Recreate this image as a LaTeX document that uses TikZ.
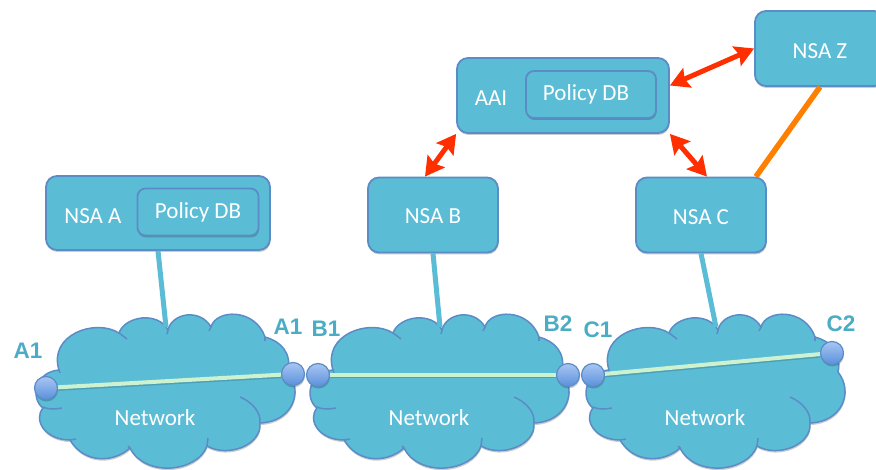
\documentclass[tikz,border=0pt]{standalone}
\usepackage{fontspec}
\setmainfont{Carlito}
\newfontfamily\portfont{Liberation Sans}[BoldFont={Liberation Sans Bold}]
\usepackage{tikz}
\usetikzlibrary{arrows.meta,shadows,positioning}
\definecolor{nsafill}{HTML}{5BBCD6}
\definecolor{nsaedge}{HTML}{5C8CC6}
\definecolor{portlabel}{HTML}{4BACC6}
\definecolor{porttop}{HTML}{A9C6F2}
\definecolor{portbottom}{HTML}{5A90DC}
\definecolor{ctrlred}{HTML}{FF2F00}
\definecolor{peerorange}{HTML}{FF7F00}
\definecolor{datagreen}{HTML}{CDF2CF}
\tikzset{
  softshadow/.style={drop shadow={shadow xshift=0.5pt,shadow yshift=-2pt,opacity=0.2,fill=black}},
  nsabox/.style={draw=nsaedge,fill=nsafill,line width=1.8pt,rounded corners=11pt,inner sep=0pt,softshadow},
  boxtext/.style={text=white,inner sep=0pt,font=\fontsize{23}{27}\selectfont},
  policybox/.style={nsabox,boxtext,rounded corners=8pt},
  portdot/.style={circle,draw=nsaedge,line width=1.2pt,minimum size=23pt,inner sep=0pt,top color=porttop,bottom color=portbottom,softshadow},
  portname/.style={text=portlabel,inner sep=0pt,font=\portfont\bfseries\fontsize{22.5}{26}\selectfont},
  mgmtlink/.style={draw=nsafill,line width=5pt},
  datalink/.style={draw=datagreen,line width=4pt,preaction={draw=black,opacity=0.15,line width=4pt,transform canvas={yshift=-1.5pt}}},
  ctrlarrow/.style={draw=ctrlred,line width=5pt,{Stealth[width=21pt,length=19pt,inset=3pt]}-{Stealth[width=21pt,length=19pt,inset=3pt]}},
  peerlink/.style={draw=peerorange,line width=5.5pt},
  netcloud/.pic={
    \path [draw=nsaedge,fill=nsafill,line width=1.5pt,softshadow]
      (59,370) .. controls (48,335) and (95,318) .. (119,333)
      .. controls (125,316) and (158,311) .. (168,330)
      .. controls (172,313) and (200,308) .. (211,327)
      .. controls (216,309) and (255,308) .. (265,337)
      .. controls (280,341) and (292,352) .. (288,372)
      .. controls (304,392) and (292,422) .. (260,423)
      .. controls (262,445) and (228,458) .. (207,446)
      .. controls (198,472) and (145,478) .. (130,448)
      .. controls (115,462) and (85,465) .. (70,440)
      .. controls (45,440) and (33,420) .. (43,408)
      .. controls (30,398) and (35,372) .. (59,370) -- cycle;
    \draw [nsaedge,line width=1.5pt] (59,370) -- (60,373);
    \draw [nsaedge,line width=1.5pt] (119,333) -- (127,339);
    \draw [nsaedge,line width=1.5pt] (168,330) -- (167,334);
    \draw [nsaedge,line width=1.5pt] (211,327) -- (209,331);
    \draw [nsaedge,line width=1.5pt] (265,337) -- (265,341);
    \draw [nsaedge,line width=1.5pt] (240,397) .. controls (252,402) and (261,412) .. (260,423);
    \draw [nsaedge,line width=1.5pt] (207,446) -- (208,438);
    \draw [nsaedge,line width=1.5pt] (130,448) -- (128,446);
    \draw [nsaedge,line width=1.5pt] (70,440) -- (76,439);
    \draw [nsaedge,line width=1.5pt] (43,407) .. controls (50,410) and (56,409) .. (62,408);
    \node (-label) [boxtext] at (155,418) {Network};
    \coordinate (-top) at (166,327);
  }
}
\begin{document}
\begin{tikzpicture}[x=1pt,y=-1pt]
  \clip (0,0) rectangle (876,470);
  \pic (neta) at (0,0) {netcloud};
  \pic (netb) at (274,0) {netcloud};
  \pic (netc) at (550,0) {netcloud};
  \node (nsaa) [nsabox,minimum width=224pt,minimum height=74pt] at (158,213) {};
  \node (nsaatext) [boxtext] at (93,216) {NSA A};
  \node (dba) [policybox,minimum width=121pt,minimum height=47pt] at (198,212) {Policy DB};
  \node (nsab) [nsabox,minimum width=130pt,minimum height=75pt] at (433,215) {};
  \node (nsabtext) [boxtext] at (433,216) {NSA B};
  \node (nsac) [nsabox,minimum width=130pt,minimum height=75pt] at (701,215) {};
  \node (nsactext) [boxtext] at (701,217) {NSA C};
  \node (nsaz) [nsabox,minimum width=130pt,minimum height=75pt] at (820,48.5) {};
  \node (nsaztext) [boxtext] at (820,51) {NSA Z};
  \node (aai) [nsabox,minimum width=212pt,minimum height=75pt] at (563,95.5) {};
  \node (aaitext) [boxtext] at (491,98) {AAI};
  \node (dbaai) [policybox,minimum width=130pt,minimum height=47pt] at (591,94.5) {Policy DB\hspace*{10pt}};
  \draw [mgmtlink] (nsaa.south) -- (neta-top);
  \draw [mgmtlink] (nsab.south) -- (netb-top);
  \draw [mgmtlink] (nsac.south) -- (netc-top);
  \draw [ctrlarrow] ([xshift=-8pt]nsab.north) -- (aai.south west);
  \draw [ctrlarrow] (aai.south east) -- ([xshift=6pt]nsac.north);
  \draw [ctrlarrow] ([yshift=10pt]aai.east) -- (nsaz.west);
  \draw [peerlink] ([xshift=-11pt]nsac.north east) -- (nsaz.south);
  \node (pa1) [portdot] at (46,388) {};
  \node (pa2) [portdot] at (293,374) {};
  \node (pb1) [portdot] at (318,375) {};
  \node (pb2) [portdot] at (568,375) {};
  \node (pc1) [portdot] at (593,375) {};
  \node (pc2) [portdot] at (832,353) {};
  \draw [datalink] (pa1) -- (pa2);
  \draw [datalink] (pb1) -- (pb2);
  \draw [datalink] (pc1) -- (pc2);
  \node (la1) [portname] at (28,351) {A1};
  \node (la2) [portname] at (288,327) {A1};
  \node (lb1) [portname] at (326,329) {B1};
  \node (lb2) [portname] at (558,324) {B2};
  \node (lc1) [portname] at (598,330) {C1};
  \node (lc2) [portname] at (841,324) {C2};
\end{tikzpicture}
\end{document}
